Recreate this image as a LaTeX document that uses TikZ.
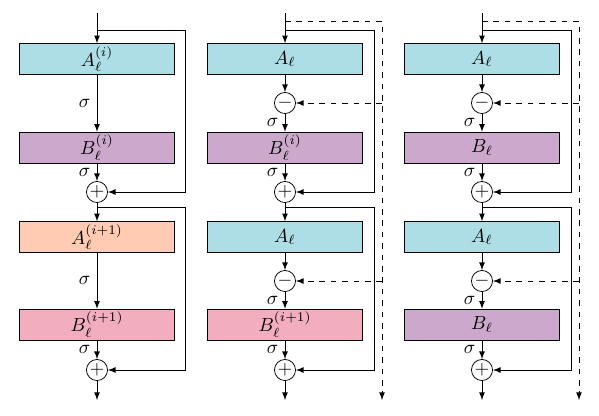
\documentclass[tikz,border=0pt]{standalone}
\usepackage{tikz}
\usetikzlibrary{arrows}

\definecolor{cyanbox}{RGB}{173,222,230}
\definecolor{purplebox}{RGB}{204,168,204}
\definecolor{peachbox}{RGB}{255,204,179}
\definecolor{pinkbox}{RGB}{242,173,191}

\begin{document}
\begin{tikzpicture}[x=0.185cm, y=-0.185cm, >=latex]
\useasboundingbox (0,0) rectangle (59.9,41.5);

\tikzset{layer/.style={draw, minimum width=2.87cm, minimum height=0.57cm, inner sep=0pt},
         op/.style={circle, draw, minimum size=0.39cm, inner sep=0pt}}

% column 1
\begin{scope}[]
    \coordinate (in1) at (9.7,1.3);
    \coordinate (out1) at (9.7,40.0);
    \node[layer, fill=cyanbox] (A11) at (9.7,5.9) {$A_\ell^{(i)}$};
    \node[layer, fill=purplebox] (B11) at (9.7,14.75) {$B_\ell^{(i)}$};
    \node[op] (add11) at (9.7,19.2) {$+$};
    \node[layer, fill=peachbox] (A12) at (9.7,23.7) {$A_\ell^{(i+1)}$};
    \node[layer, fill=pinkbox] (B12) at (9.7,32.45) {$B_\ell^{(i+1)}$};
    \node[op] (add12) at (9.7,37.0) {$+$};
    \coordinate (s11) at (9.7,3.0);
    \coordinate (s12) at (9.7,20.7);
\end{scope}

\begin{scope}[]
    \path [->] (in1) edge (A11);
    \path [->] (A11) edge node[midway, left] {$\sigma$} (B11);
    \path [->] (B11) edge node[midway, left] {$\sigma$} (add11);
    \path [->] (add11) edge (A12);
    \path [->] (A12) edge node[midway, left] {$\sigma$} (B12);
    \path [->] (B12) edge node[midway, left] {$\sigma$} (add12);
    \path [->] (add12) edge (out1);
    \draw [->] (s11) -- (18.5,3.0) |- (add11);
    \draw [->] (s12) -- (18.5,20.7) |- (add12);
\end{scope}

% column 2
\begin{scope}[]
    \coordinate (in2) at (28.5,1.3);
    \coordinate (out2) at (28.5,40.0);
    \node[layer, fill=cyanbox] (A21) at (28.5,5.9) {$A_\ell$};
    \node[op] (sub21) at (28.5,10.3) {$-$};
    \node[layer, fill=purplebox] (B21) at (28.5,14.75) {$B_\ell^{(i)}$};
    \node[op] (add21) at (28.5,19.2) {$+$};
    \node[layer, fill=cyanbox] (A22) at (28.5,23.7) {$A_\ell$};
    \node[op] (sub22) at (28.5,28.1) {$-$};
    \node[layer, fill=pinkbox] (B22) at (28.5,32.45) {$B_\ell^{(i+1)}$};
    \node[op] (add22) at (28.5,37.0) {$+$};
    \coordinate (s21) at (28.5,3.0);
    \coordinate (s22) at (28.5,20.7);
    \coordinate (d2) at (28.5,2.1);
    \coordinate (dend2) at (38.2,40.0);
\end{scope}

\begin{scope}[]
    \path [->] (in2) edge (A21);
    \path [->] (A21) edge (sub21);
    \path [->] (sub21) edge node[midway, left] {$\sigma$} (B21);
    \path [->] (B21) edge node[midway, left] {$\sigma$} (add21);
    \path [->] (add21) edge (A22);
    \path [->] (A22) edge (sub22);
    \path [->] (sub22) edge node[midway, left] {$\sigma$} (B22);
    \path [->] (B22) edge node[midway, left] {$\sigma$} (add22);
    \path [->] (add22) edge (out2);
    \draw [->] (s21) -- (37.4,3.0) |- (add21);
    \draw [->] (s22) -- (37.4,20.7) |- (add22);
    \draw [->, dashed] (d2) -- (38.2,2.1) -- (dend2);
    \draw [->, dashed] (38.2,10.3) -- (sub21);
    \draw [->, dashed] (38.2,28.1) -- (sub22);
\end{scope}

% column 3
\begin{scope}[]
    \coordinate (in3) at (48.2,1.3);
    \coordinate (out3) at (48.2,40.0);
    \node[layer, fill=cyanbox] (A31) at (48.2,5.9) {$A_\ell$};
    \node[op] (sub31) at (48.2,10.3) {$-$};
    \node[layer, fill=purplebox] (B31) at (48.2,14.75) {$B_\ell$};
    \node[op] (add31) at (48.2,19.2) {$+$};
    \node[layer, fill=cyanbox] (A32) at (48.2,23.7) {$A_\ell$};
    \node[op] (sub32) at (48.2,28.1) {$-$};
    \node[layer, fill=purplebox] (B32) at (48.2,32.45) {$B_\ell$};
    \node[op] (add32) at (48.2,37.0) {$+$};
    \coordinate (s31) at (48.2,3.0);
    \coordinate (s32) at (48.2,20.7);
    \coordinate (d3) at (48.2,2.1);
    \coordinate (dend3) at (57.9,40.0);
\end{scope}

\begin{scope}[]
    \path [->] (in3) edge (A31);
    \path [->] (A31) edge (sub31);
    \path [->] (sub31) edge node[midway, left] {$\sigma$} (B31);
    \path [->] (B31) edge node[midway, left] {$\sigma$} (add31);
    \path [->] (add31) edge (A32);
    \path [->] (A32) edge (sub32);
    \path [->] (sub32) edge node[midway, left] {$\sigma$} (B32);
    \path [->] (B32) edge node[midway, left] {$\sigma$} (add32);
    \path [->] (add32) edge (out3);
    \draw [->] (s31) -- (57.1,3.0) |- (add31);
    \draw [->] (s32) -- (57.1,20.7) |- (add32);
    \draw [->, dashed] (d3) -- (57.9,2.1) -- (dend3);
    \draw [->, dashed] (57.9,10.3) -- (sub31);
    \draw [->, dashed] (57.9,28.1) -- (sub32);
\end{scope}
\end{tikzpicture}
\end{document}
